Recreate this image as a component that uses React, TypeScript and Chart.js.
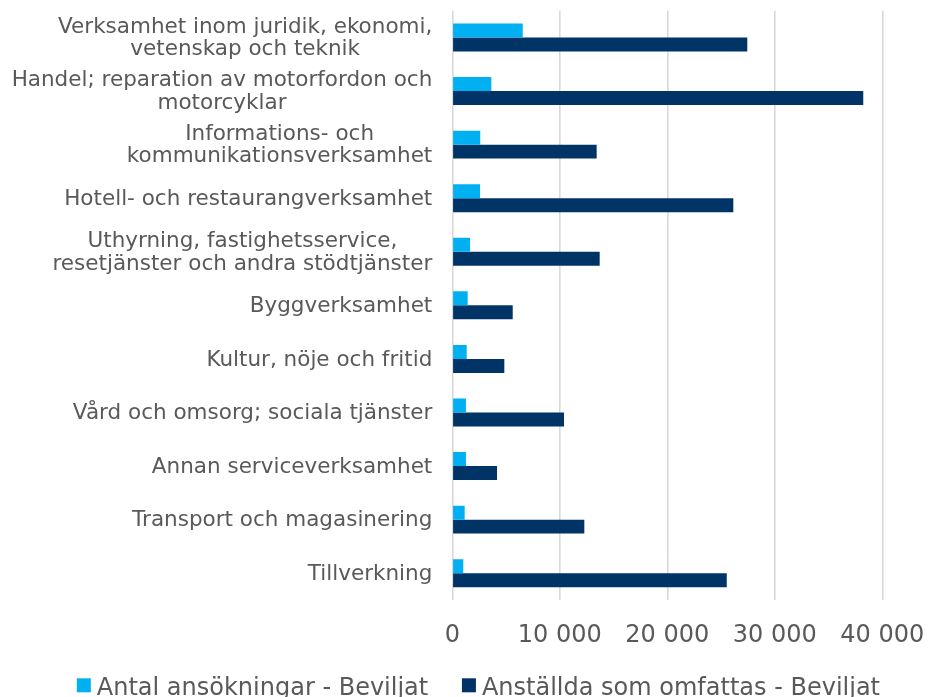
import React, { useEffect, useRef } from "react";
import { Chart, registerables } from "chart.js";

Chart.register(...registerables);

const categories: (string | string[])[] = [
  ["Verksamhet inom juridik, ekonomi,", "vetenskap och teknik"],
  ["Handel; reparation av motorfordon och", "motorcyklar"],
  ["Informations- och", "kommunikationsverksamhet"],
  "Hotell- och restaurangverksamhet",
  ["Uthyrning, fastighetsservice,", "resetjänster och andra stödtjänster"],
  "Byggverksamhet",
  "Kultur, nöje och fritid",
  "Vård och omsorg; sociala tjänster",
  "Annan serviceverksamhet",
  "Transport och magasinering",
  "Tillverkning",
];

const seriesNames = ["Antal ansökningar - Beviljat", "Anställda som omfattas - Beviljat"];

const applications = [6550, 3630, 2600, 2580, 1650, 1430, 1340, 1270, 1270, 1150, 1020];
const employees = [27440, 38230, 13430, 26140, 13710, 5620, 4840, 10390, 4160, 12280, 25530];

const xMin = 0;
const xMax = 40000;
const xStep = 10000;

const FONT = '"DejaVu Sans", Verdana, sans-serif';
const TEXT = "#595959";
const COLORS = ["#00B0F0", "#003366"];

function fmt(v: number): string {
  return String(v).replace(/\B(?=(\d{3})+(?!\d))/g, " ");
}

const yLabelPlugin = {
  id: "yLabelsCustom",
  afterDraw(chart: any) {
    const ctx = chart.ctx as CanvasRenderingContext2D;
    const y = chart.scales.y;
    const labels = chart.data.labels as (string | string[])[];
    ctx.save();
    ctx.font = `21.5px ${FONT}`;
    ctx.fillStyle = TEXT;
    ctx.textBaseline = "middle";
    ctx.textAlign = "center";
    const right = y.right - 20;
    const lh = 22.3;
    labels.forEach((lab, i) => {
      const lines = Array.isArray(lab) ? lab : [lab];
      const w = Math.max(...lines.map((l) => ctx.measureText(l).width));
      const cx = right - w / 2;
      const cy = y.getPixelForTick(i) + 1;
      lines.forEach((l, j) => {
        ctx.fillText(l, cx, cy + (j - (lines.length - 1) / 2) * lh);
      });
    });
    ctx.restore();
  },
};

const legendPlugin = {
  id: "legendCustom",
  afterDraw(chart: any) {
    const ctx = chart.ctx as CanvasRenderingContext2D;
    const ds = chart.data.datasets;
    ctx.save();
    ctx.font = `24px ${FONT}`;
    ctx.textBaseline = "alphabetic";
    ctx.textAlign = "left";
    const box = 14;
    const boxGap = 6;
    const itemGap = 33.7;
    const widths = ds.map((d: any) => ctx.measureText(d.label).width);
    const total =
      widths.reduce((a: number, b: number) => a + b, 0) + ds.length * (box + boxGap) + (ds.length - 1) * itemGap;
    let x = 478.4 - total / 2;
    const baseline = 695;
    ds.forEach((d: any, i: number) => {
      ctx.fillStyle = d.backgroundColor;
      ctx.fillRect(x, 678.3, box, box);
      x += box + boxGap;
      ctx.fillStyle = TEXT;
      ctx.fillText(d.label, x, baseline);
      x += widths[i] + itemGap;
    });
    ctx.restore();
  },
};

export default function App() {
  const ref = useRef<HTMLCanvasElement | null>(null);

  useEffect(() => {
    if (!ref.current) return;
    const chart = new Chart(ref.current, {
      type: "bar",
      data: {
        labels: categories,
        datasets: [
          {
            label: seriesNames[0],
            data: applications,
            backgroundColor: COLORS[0],
            borderWidth: 0,
            barPercentage: 1,
            categoryPercentage: 0.522,
          },
          {
            label: seriesNames[1],
            data: employees,
            backgroundColor: COLORS[1],
            borderWidth: 0,
            barPercentage: 1,
            categoryPercentage: 0.522,
          },
        ],
      },
      options: {
        indexAxis: "y",
        animation: false,
        responsive: false,
        devicePixelRatio: 1,
        layout: { padding: { top: 10.7, right: 45.7, bottom: 44.2, left: 0 } },
        plugins: {
          legend: { display: false },
          tooltip: { enabled: false },
        },
        scales: {
          x: {
            type: "linear",
            position: "bottom",
            min: xMin,
            max: xMax,
            ticks: {
              stepSize: xStep,
              callback: (v: any) => fmt(Number(v)),
              font: { family: FONT, size: 24 },
              color: TEXT,
              padding: 3,
            },
            grid: {
              color: "#d9d9d9",
              lineWidth: 1.6,
              tickLength: 18,
              tickColor: "rgba(0,0,0,0)",
            },
            border: { display: false },
          },
          y: {
            type: "category",
            grid: { display: false },
            border: { display: false },
            ticks: { display: false },
            afterFit: (s: any) => {
              s.width = 452.3;
            },
          },
        },
      },
      plugins: [yLabelPlugin, legendPlugin],
    });
    return () => chart.destroy();
  }, []);

  return (
    <div style={{ position: "absolute", left: 0, top: 0, width: 928, height: 697, background: "#fff" }}>
      <canvas ref={ref} width={928} height={697} style={{ width: 928, height: 697, display: "block" }} />
    </div>
  );
}
